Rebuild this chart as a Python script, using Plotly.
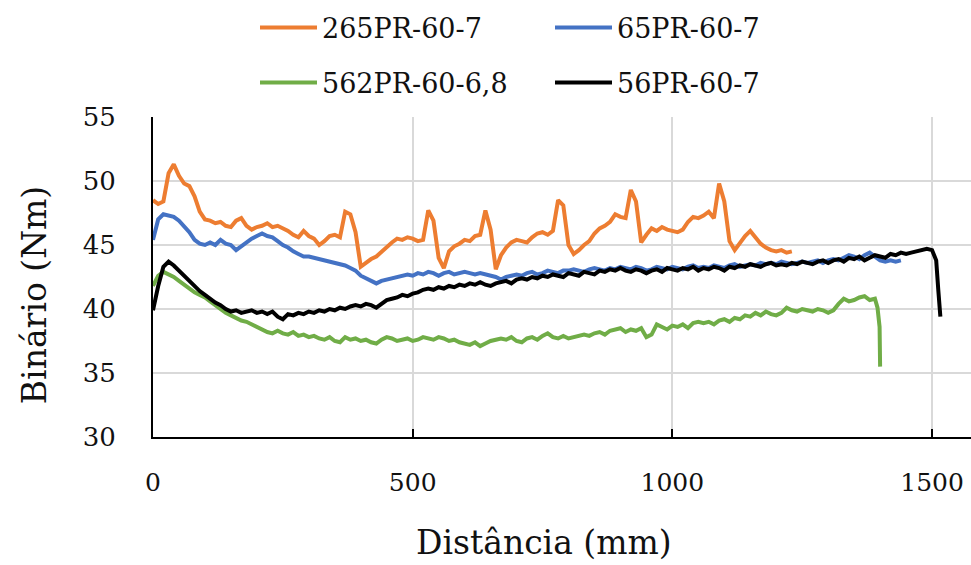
import plotly.graph_objects as go

# Torque (Nm) versus distance travelled (mm) for four runs
names = ["265PR-60-7", "65PR-60-7", "562PR-60-6,8", "56PR-60-7"]
colors = ["#ED7D31", "#4472C4", "#70AD47", "#000000"]

dist_265 = list(range(0, 1231, 10))
torque_265 = [
    48.5, 48.2, 48.4, 50.6, 51.3, 50.4, 49.8, 49.6, 48.8, 47.6,
    47.0, 46.9, 46.7, 46.8, 46.5, 46.4, 46.9, 47.1, 46.5, 46.2,
    46.4, 46.5, 46.7, 46.4, 46.5, 46.3, 46.1, 45.8, 45.6, 46.1,
    45.7, 45.5, 45.0, 45.3, 45.7, 45.8, 45.6, 47.6, 47.4, 46.0,
    43.3, 43.6, 43.9, 44.1, 44.5, 44.9, 45.2, 45.5, 45.4, 45.6,
    45.5, 45.3, 45.4, 47.7, 46.9, 44.0, 43.2, 44.5, 44.9, 45.1,
    45.4, 45.3, 45.7, 45.8, 47.7, 46.2, 43.1, 44.2, 44.8, 45.2,
    45.4, 45.3, 45.2, 45.6, 45.9, 46.0, 45.8, 46.1, 48.5, 48.1,
    45.0, 44.3, 44.6, 45.0, 45.3, 45.9, 46.3, 46.5, 46.8, 47.4,
    47.2, 47.1, 49.3, 48.4, 45.2, 45.8, 46.3, 46.1, 46.4, 46.2,
    46.1, 46.0, 46.2, 46.8, 47.2, 47.1, 47.3, 47.6, 47.1, 49.8,
    48.4, 45.3, 44.6, 45.2, 45.7, 46.1, 45.6, 45.1, 44.8, 44.6,
    44.5, 44.6, 44.4, 44.5,
]

dist_65 = list(range(0, 1441, 10))
torque_65 = [
    45.4, 47.0, 47.4, 47.3, 47.2, 46.9, 46.5, 46.0, 45.4, 45.1,
    45.0, 45.2, 45.0, 45.4, 45.1, 45.0, 44.6, 44.9, 45.2, 45.5,
    45.7, 45.9, 45.7, 45.6, 45.3, 45.0, 44.8, 44.5, 44.3, 44.1,
    44.1, 44.0, 43.9, 43.8, 43.7, 43.6, 43.5, 43.4, 43.2, 43.0,
    42.6, 42.4, 42.2, 42.0, 42.2, 42.3, 42.4, 42.5, 42.6, 42.7,
    42.6, 42.8, 42.7, 42.9, 42.8, 42.6, 42.8, 42.9, 42.7, 42.8,
    42.9, 42.8, 42.7, 42.8, 42.7, 42.6, 42.5, 42.3, 42.5, 42.6,
    42.7, 42.6, 42.8, 42.9, 42.7, 42.8, 43.0, 42.9, 42.8, 43.0,
    43.0, 43.1, 43.0, 42.9, 43.1, 43.2, 43.1, 43.0, 43.2, 43.1,
    43.3, 43.2, 43.1, 43.3, 43.2, 43.0, 43.1, 43.3, 43.2, 43.1,
    43.3, 43.2, 43.1, 43.3, 43.4, 43.2, 43.3, 43.2, 43.4, 43.3,
    43.2, 43.4, 43.5, 43.3, 43.4, 43.5, 43.4, 43.6, 43.5, 43.6,
    43.5, 43.7, 43.6, 43.5, 43.6, 43.7, 43.6, 43.7, 43.8, 43.6,
    43.8, 43.9, 43.8, 44.0, 44.2, 44.1, 43.9, 44.2, 44.4, 44.1,
    43.8, 43.7, 43.8, 43.7, 43.8,
]

dist_562 = list(range(0, 1391, 10)) + [1395, 1399, 1400]
torque_562 = [
    41.8, 42.6, 42.9, 42.7, 42.5, 42.2, 41.9, 41.6, 41.3, 41.1,
    40.9, 40.6, 40.3, 40.0, 39.7, 39.5, 39.3, 39.1, 39.0, 38.8,
    38.6, 38.4, 38.2, 38.1, 38.3, 38.1, 38.0, 38.2, 37.9, 38.0,
    37.8, 37.9, 37.7, 37.6, 37.8, 37.5, 37.4, 37.8, 37.6, 37.7,
    37.5, 37.6, 37.4, 37.3, 37.6, 37.8, 37.7, 37.5, 37.6, 37.7,
    37.5, 37.6, 37.8, 37.7, 37.6, 37.8, 37.7, 37.5, 37.6, 37.4,
    37.3, 37.2, 37.4, 37.1, 37.3, 37.5, 37.6, 37.7, 37.6, 37.8,
    37.5, 37.4, 37.7, 37.8, 37.6, 37.9, 38.1, 37.8, 37.7, 37.9,
    37.7, 37.8, 37.9, 38.0, 37.9, 38.1, 38.2, 38.0, 38.3, 38.4,
    38.5, 38.2, 38.4, 38.3, 38.5, 37.8, 38.0, 38.8, 38.6, 38.4,
    38.7, 38.6, 38.8, 38.5, 38.9, 39.0, 38.9, 39.0, 38.8, 39.1,
    39.2, 39.0, 39.3, 39.2, 39.5, 39.4, 39.7, 39.5, 39.8, 39.6,
    39.5, 39.7, 40.1, 39.9, 39.8, 40.0, 39.9, 39.8, 40.0, 39.9,
    39.7, 39.9, 40.4, 40.8, 40.6, 40.7, 40.9, 41.0, 40.7, 40.8,
    40.1, 38.6, 35.5,
]

dist_56 = list(range(0, 1501, 10)) + [1508, 1512, 1516]
torque_56 = [
    39.9, 41.8, 43.3, 43.7, 43.4, 43.0, 42.6, 42.1, 41.8, 41.4,
    41.1, 40.8, 40.5, 40.3, 40.0, 39.8, 39.9, 39.7, 39.8, 39.9,
    39.7, 39.8, 39.6, 39.8, 39.4, 39.2, 39.6, 39.5, 39.7, 39.6,
    39.8, 39.7, 39.9, 39.8, 40.0, 39.9, 40.1, 40.0, 40.2, 40.3,
    40.2, 40.4, 40.3, 40.1, 40.4, 40.7, 40.8, 40.9, 41.1, 41.0,
    41.2, 41.3, 41.5, 41.6, 41.5, 41.7, 41.6, 41.8, 41.7, 41.9,
    41.8, 42.0, 41.9, 42.1, 41.9, 41.8, 42.0, 42.1, 42.2, 42.0,
    42.3, 42.4, 42.3, 42.5, 42.4, 42.6, 42.5, 42.7, 42.6, 42.5,
    42.8, 42.7, 42.6, 42.9, 42.8, 42.7, 43.0, 42.9, 43.1, 43.0,
    43.2, 43.0, 42.9, 43.1, 43.0, 42.8, 43.0, 43.1, 42.9, 43.2,
    43.1, 43.0, 43.2, 43.1, 43.3, 43.0, 43.2, 43.1, 43.3, 43.2,
    43.0, 43.3, 43.2, 43.4, 43.3, 43.5, 43.4, 43.3, 43.5, 43.6,
    43.4, 43.5, 43.4, 43.6, 43.5, 43.7, 43.6, 43.5, 43.7, 43.8,
    43.6, 43.8, 43.9, 43.7, 44.0, 43.9, 44.1, 43.8, 44.0, 44.2,
    44.1, 44.0, 44.3, 44.2, 44.4, 44.3, 44.4, 44.5, 44.6, 44.7,
    44.6, 43.8, 41.5, 39.4,
]

x_ticks = [0, 500, 1000, 1500]
y_ticks = [30, 35, 40, 45, 50, 55]

FONT = "DejaVu Serif"
TXT = "#111111"

series = [
    (dist_265, torque_265, "legend"),
    (dist_65, torque_65, "legend"),
    (dist_562, torque_562, "legend2"),
    (dist_56, torque_56, "legend2"),
]

fig = go.Figure()
for (xs, ys, lg), name, col in zip(series, names, colors):
    fig.add_trace(go.Scatter(
        x=xs, y=ys, mode="lines", name=name, legend=lg,
        line=dict(color=col, width=4),
    ))

legend_common = dict(
    orientation="h", xref="container", yref="container",
    xanchor="left", yanchor="middle",
    font=dict(family=FONT, size=27, color=TXT),
    itemwidth=57,
    entrywidth=223, entrywidthmode="pixels",
    bgcolor="rgba(0,0,0,0)", borderwidth=0,
)

fig.update_layout(
    width=971, height=565,
    margin=dict(l=153, r=0, t=117, b=128, autoexpand=False),
    paper_bgcolor="white", plot_bgcolor="white",
    font=dict(family=FONT, color=TXT),
    showlegend=True,
    legend=dict(x=255 / 971, y=1 - 28 / 565, **legend_common),
    legend2=dict(x=255 / 971, y=1 - 83 / 565, **legend_common),
    xaxis=dict(
        range=[0, 1575], tickvals=x_ticks, ticktext=[str(v) for v in x_ticks],
        showgrid=True, gridcolor="#d9d9d9", gridwidth=2,
        showline=True, linecolor="black", linewidth=2,
        ticks="inside", ticklen=8, tickwidth=2, tickcolor="black",
        tickfont=dict(family=FONT, size=25, color=TXT),
        ticklabelstandoff=22, zeroline=False,
    ),
    yaxis=dict(
        range=[30, 55], tickvals=y_ticks,
        showgrid=True, gridcolor="#d9d9d9", gridwidth=2,
        showline=True, linecolor="black", linewidth=2,
        ticks="", tickfont=dict(family=FONT, size=26, color=TXT),
        ticklabelstandoff=30, zeroline=False,
    ),
    annotations=[
        dict(text="Distância (mm)", xref="paper", yref="paper",
             x=0.478, y=-0.33, xanchor="center", yanchor="middle",
             showarrow=False, font=dict(family=FONT, size=33, color=TXT)),
        dict(text="Binário (Nm)", xref="paper", yref="paper",
             x=-0.144, y=0.444, xanchor="center", yanchor="middle",
             textangle=-90, showarrow=False,
             font=dict(family=FONT, size=33, color=TXT)),
    ],
)

fig.write_html("out.html")
